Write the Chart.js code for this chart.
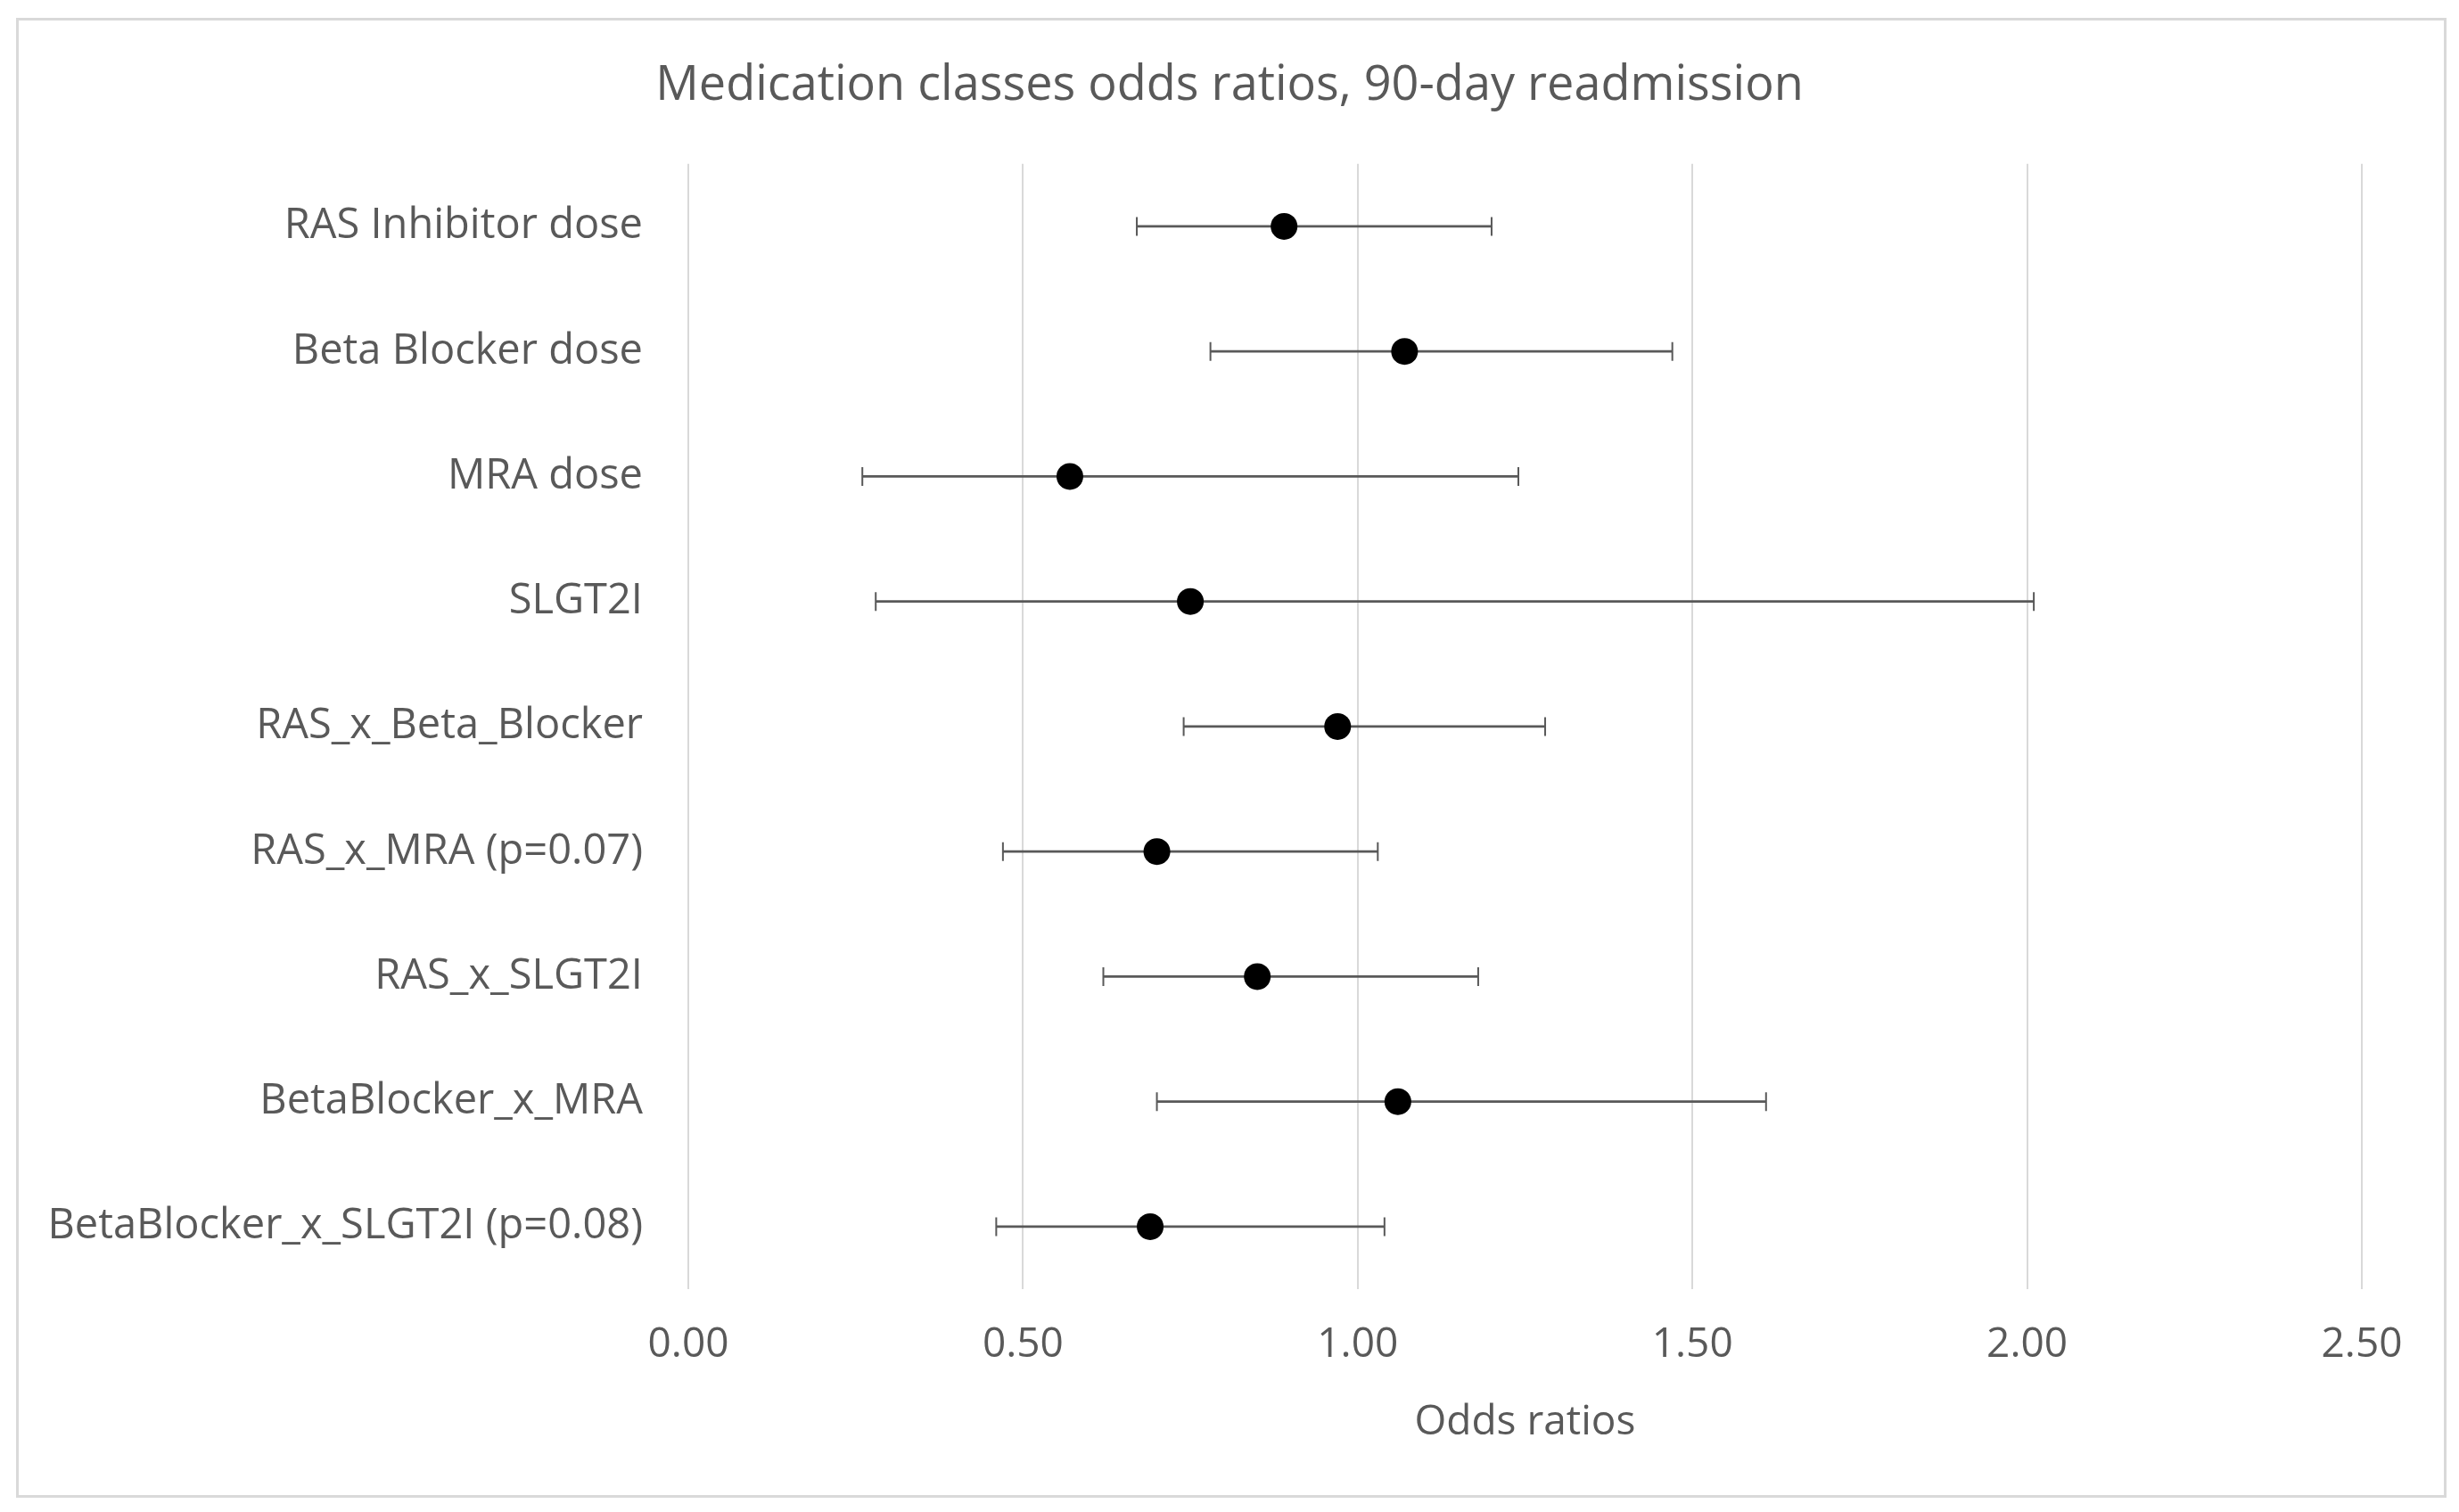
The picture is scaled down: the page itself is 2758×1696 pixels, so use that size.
<!DOCTYPE html>
<html>
<head>
<meta charset="utf-8">
<script src="https://cdn.jsdelivr.net/npm/chart.js@4.4.1/dist/chart.umd.min.js"></script>
<style>
  html, body { margin: 0; padding: 0; background: #ffffff; }
  #wrap { position: relative; width: 2758px; height: 1696px; }
</style>
</head>
<body>
<div id="wrap"><canvas id="orChart"></canvas></div>
<script>
// Odds ratios with 95% CI
const categories = [
    'RAS Inhibitor dose',
    'Beta Blocker dose',
    'MRA dose',
    'SLGT2I',
    'RAS_x_Beta_Blocker',
    'RAS_x_MRA (p=0.07)',
    'RAS_x_SLGT2I',
    'BetaBlocker_x_MRA',
    'BetaBlocker_x_SLGT2I (p=0.08)'
];
const oddsRatios = [0.89, 1.07, 0.57, 0.75, 0.97, 0.70, 0.85, 1.06, 0.69];
const ciLower = [0.67, 0.78, 0.26, 0.28, 0.74, 0.47, 0.62, 0.70, 0.46];
const ciUpper = [1.20, 1.47, 1.24, 2.01, 1.28, 1.03, 1.18, 1.61, 1.04];
const xMin = 0, xMax = 2.5, xStep = 0.5;

const textColor = '#595959';
const fontFamily = '"Open Sans", "Noto Sans", sans-serif';

// draws the CI whiskers under the points
const errorBars = {
    id: 'errorBars',
    beforeDatasetsDraw(chart) {
        const ctx = chart.ctx;
        const x = chart.scales.x, y = chart.scales.y;
        ctx.save();
        ctx.strokeStyle = '#595959';
        categories.forEach((cat, i) => {
            const py = y.getPixelForValue(i);
            const x1 = x.getPixelForValue(ciLower[i]);
            const x2 = x.getPixelForValue(ciUpper[i]);
            ctx.lineWidth = 2.8;
            ctx.beginPath();
            ctx.moveTo(x1, py);
            ctx.lineTo(x2, py);
            ctx.stroke();
            ctx.lineWidth = 2;
            ctx.beginPath();
            ctx.moveTo(x1, py - 10.5);
            ctx.lineTo(x1, py + 10.5);
            ctx.moveTo(x2, py - 10.5);
            ctx.lineTo(x2, py + 10.5);
            ctx.stroke();
        });
        ctx.restore();
    }
};

// light grey frame round the whole chart, title centred on the whole frame
const chartFrame = {
    id: 'chartFrame',
    afterLayout(chart) {
        const tb = chart.titleBlock;
        tb.left = 0;
        tb.right = chart.width;
        tb.width = chart.width;
    },
    afterDraw(chart) {
        const ctx = chart.ctx;
        ctx.save();
        ctx.strokeStyle = '#d9d9d9';
        ctx.lineWidth = 3;
        ctx.strokeRect(19.5, 21.5, 2723, 1657);
        ctx.restore();
    }
};

const ctx = document.getElementById('orChart').getContext('2d');
const orChart = new Chart(ctx, {
    type: 'scatter',
    data: {
        datasets: [{
            label: 'Odds ratio',
            data: oddsRatios.map((v, i) => ({ x: v, y: categories[i] })),
            backgroundColor: '#000000',
            borderWidth: 0,
            pointRadius: 15,
            pointHoverRadius: 15
        }]
    },
    options: {
        responsive: true,
        maintainAspectRatio: false,
        animation: false,
        devicePixelRatio: 1,
        layout: { padding: { left: 40, right: 109, top: 0, bottom: 0 } },
        plugins: {
            legend: { display: false },
            tooltip: { enabled: false },
            title: {
                display: true,
                text: 'Medication classes odds ratios, 90-day readmission',
                color: textColor,
                font: { family: fontFamily, size: 54, weight: 'normal' },
                padding: { top: 64, bottom: 55 }
            }
        },
        scales: {
            x: {
                type: 'linear',
                min: xMin,
                max: xMax,
                border: { display: false },
                grid: { color: '#d9d9d9', lineWidth: 2, drawTicks: false },
                ticks: {
                    stepSize: xStep,
                    color: textColor,
                    padding: 35,
                    font: { family: fontFamily, size: 46 },
                    callback: v => v.toFixed(2)
                },
                title: {
                    display: true,
                    text: 'Odds ratios',
                    color: textColor,
                    font: { family: fontFamily, size: 46 },
                    padding: { top: 0, bottom: 73 }
                },
                afterFit(scale) { scale.height = 250; }
            },
            y: {
                type: 'category',
                labels: categories,
                offset: true,
                border: { display: false },
                grid: { display: false, drawTicks: false },
                ticks: {
                    color: textColor,
                    padding: 51,
                    font: { family: fontFamily, size: 47 }
                },
                afterFit(scale) { scale.width = 732; }
            }
        }
    },
    plugins: [errorBars, chartFrame]
});
</script>
</body>
</html>
